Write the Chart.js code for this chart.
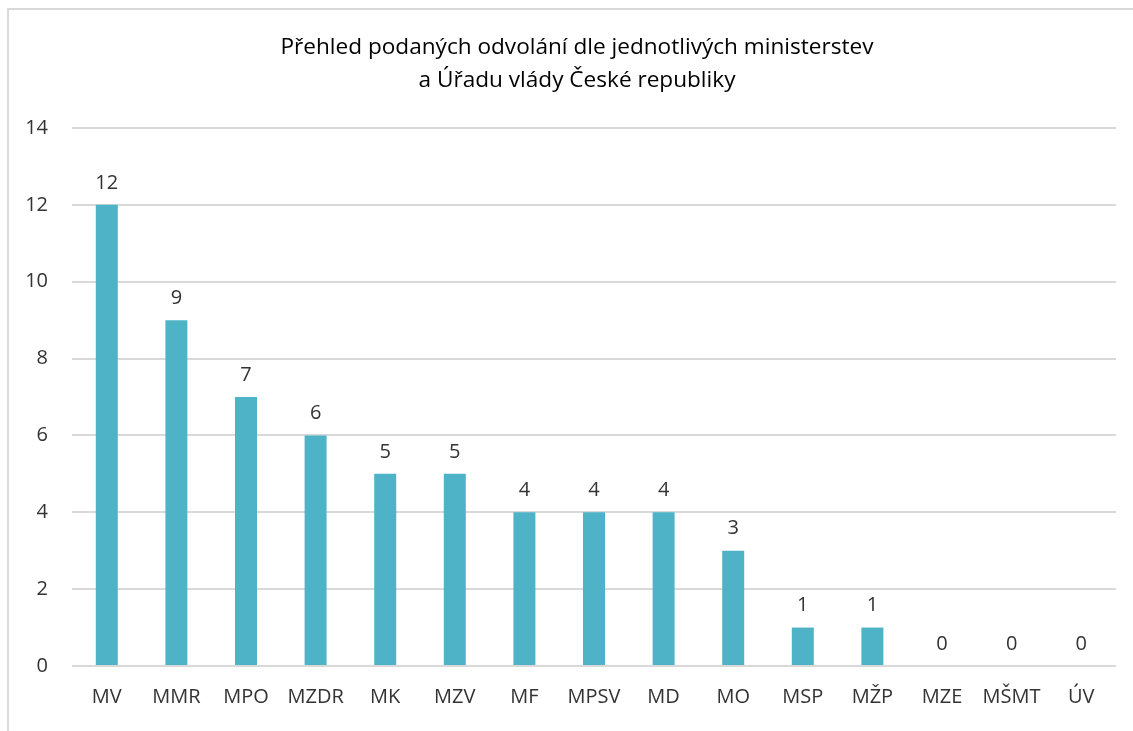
<!DOCTYPE html>
<html lang="cs">
<head>
<meta charset="utf-8">
<title>Přehled podaných odvolání</title>
<script src="https://cdn.jsdelivr.net/npm/chart.js@4/dist/chart.umd.min.js"></script>
<style>
    html, body {
        margin: 0;
        padding: 0;
        background: #ffffff;
        overflow: hidden;
    }
    .frame {
        position: absolute;
        left: 7px;
        top: 8px;
        width: 1200px;
        height: 800px;
        border-left: 2px solid #d9d9d9;
        border-top: 2px solid #d9d9d9;
    }
    #chart {
        position: absolute;
        left: 0;
        top: 0;
    }
</style>
</head>
<body>
<div class="frame"></div>
<canvas id="chart" width="1133" height="731"></canvas>
<script>
// Chart data
const titleLines = ['Přehled podaných odvolání dle jednotlivých ministerstev', 'a Úřadu vlády České republiky'];
const categories = ['MV', 'MMR', 'MPO', 'MZDR', 'MK', 'MZV', 'MF', 'MPSV', 'MD', 'MO', 'MSP', 'MŽP', 'MZE', 'MŠMT', 'ÚV'];
const appeals = [12, 9, 7, 6, 5, 5, 4, 4, 4, 3, 1, 1, 0, 0, 0];
const yTicks = [0, 2, 4, 6, 8, 10, 12, 14];

const fontFamily = '"Open Sans", "Noto Sans", sans-serif';
const textColor = '#333333';

// Value labels above bars
const valueLabels = {
    id: 'valueLabels',
    afterDatasetsDraw(chart) {
        const ctx = chart.ctx;
        const meta = chart.getDatasetMeta(0);
        ctx.save();
        ctx.font = '20px ' + fontFamily;
        ctx.fillStyle = textColor;
        ctx.textAlign = 'center';
        ctx.textBaseline = 'bottom';
        meta.data.forEach((bar, i) => {
            ctx.fillText(String(appeals[i]), bar.x, bar.y - 12);
        });
        ctx.restore();
    }
};

const ctx = document.getElementById('chart').getContext('2d');
window.appealsChart = new Chart(ctx, {
    type: 'bar',
    data: {
        labels: categories,
        datasets: [{
            data: appeals,
            backgroundColor: '#4fb3c8',
            borderWidth: 0,
            barPercentage: 0.316,
            categoryPercentage: 1
        }]
    },
    options: {
        responsive: false,
        animation: false,
        layout: {
            padding: { left: 38, right: 17, top: 0, bottom: 0 }
        },
        scales: {
            y: {
                min: 0,
                max: 14,
                afterBuildTicks: scale => {
                    scale.ticks = yTicks.map(v => ({ value: v }));
                },
                afterFit: scale => {
                    scale.width = 34;
                    // labels are wider than the narrowed axis box, don't clip them
                    scale._computeLabelArea = () => null;
                },
                grid: {
                    color: '#d9d9d9',
                    lineWidth: 2,
                    drawTicks: false
                },
                border: { display: false },
                ticks: {
                    padding: 24,
                    color: textColor,
                    font: { family: fontFamily, size: 20 }
                }
            },
            x: {
                afterFit: scale => {
                    scale.height = 65;
                },
                grid: { display: false, drawTicks: false },
                border: { display: false },
                ticks: {
                    padding: 19,
                    color: textColor,
                    maxRotation: 0,
                    autoSkip: false,
                    font: { family: fontFamily, size: 20 }
                }
            }
        },
        plugins: {
            legend: { display: false },
            tooltip: { enabled: false },
            title: {
                display: true,
                text: titleLines,
                color: '#000000',
                font: { family: fontFamily, size: 22.6, weight: 'normal', lineHeight: 1.46 },
                padding: { top: 31, bottom: 31 }
            }
        }
    },
    plugins: [valueLabels]
});
</script>
</body>
</html>
